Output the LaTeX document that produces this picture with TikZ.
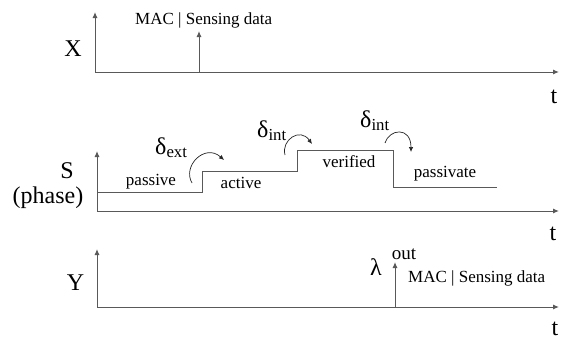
\documentclass[tikz,border=0pt]{standalone}
\usepackage{fontspec}
\setmainfont{Liberation Serif}
\usetikzlibrary{arrows.meta}

\tikzset{
  axis/.style={draw=black!65, line width=1pt, -{Latex[length=6pt,width=5pt]}},
  phaseline/.style={draw=black!65, line width=1pt},
  trans/.style={draw=black!85, line width=0.7pt, -{Latex[length=5pt,width=4.5pt]}},
  biglabel/.style={font=\fontsize{24}{26}\selectfont, inner sep=0pt},
  smalllabel/.style={font=\fontsize{17}{19}\selectfont, inner sep=0pt},
}

\begin{document}
\begin{tikzpicture}[x=1pt,y=-1pt]
    \useasboundingbox (0,0) rectangle (562,340);
    % input trajectory X
    \coordinate (xo) at (95,72);
    \coordinate (xtop) at (95,12);
    \coordinate (xend) at (559,72);
    \coordinate (xev) at (199,72);
    \coordinate (xevtop) at (199,31);
    \draw[axis] (xo) -- (xtop);
    \draw[axis] (xo) -- (xend);
    \draw[axis] (xev) -- (xevtop);
    \node[biglabel, anchor=base] (xname) at (73,56) {X};
    \node[biglabel, anchor=base] (xt) at (554,103) {t};
    \node[smalllabel, anchor=base west] (xmsg) at (135,24) {MAC | Sensing data};
    % state trajectory S
    \coordinate (so) at (97,211);
    \coordinate (stop) at (97,151);
    \coordinate (send) at (559,211);
    \draw[axis] (so) -- (stop);
    \draw[axis] (so) -- (send);
    \draw[phaseline] (97,192) -- (202,192) -- (202,171) -- (297,171) -- (297,150)
        -- (393,150) -- (393,187) -- (497,187);
    \node[biglabel, anchor=base] (sname) at (67,178) {S};
    \node[biglabel, anchor=base] (sphase) at (48,203) {(phase)};
    \node[biglabel, anchor=base] (st) at (553,240) {t};
    \node[smalllabel, anchor=base] (passive) at (151,185) {passive};
    \node[smalllabel, anchor=base] (active) at (241,188) {active};
    \node[smalllabel, anchor=base] (verified) at (349,167) {verified};
    \node[smalllabel, anchor=base] (passivate) at (445,177) {passivate};
    % transitions
    \node[biglabel, anchor=base west] (dext) at (155,154) {δ\textsubscript{ext}};
    \node[biglabel, anchor=base west] (dint1) at (257,137) {δ\textsubscript{int}};
    \node[biglabel, anchor=base west] (dint2) at (360,127) {δ\textsubscript{int}};
    \coordinate (ext1) at (192,183);
    \coordinate (ext2) at (224,160);
    \coordinate (int1a) at (285,155);
    \coordinate (int1b) at (312,144);
    \coordinate (int2a) at (385,143);
    \coordinate (int2b) at (411,152);
    \draw[trans] (ext1) .. controls (182,166) and (205,143) .. (ext2);
    \draw[trans] (int1a) .. controls (281,140) and (300,127) .. (int1b);
    \draw[trans] (int2a) .. controls (389,129) and (411,126) .. (int2b);
    % output trajectory Y
    \coordinate (yo) at (97,307);
    \coordinate (ytop) at (97,249);
    \coordinate (yend) at (559,307);
    \coordinate (yev) at (395,307);
    \coordinate (yevtop) at (395,262);
    \draw[axis] (yo) -- (ytop);
    \draw[axis] (yo) -- (yend);
    \draw[axis] (yev) -- (yevtop);
    \node[biglabel, anchor=base] (yname) at (75.5,290) {Y};
    \node[biglabel, anchor=base] (yt) at (555,335) {t};
    \node[biglabel, anchor=base west] (lout) at (370,275)
        {λ\hspace{10pt}\raisebox{16pt}{\fontsize{19}{20}\selectfont out}};
    \node[smalllabel, anchor=base west] (ymsg) at (408,282) {MAC | Sensing data};
\end{tikzpicture}
\end{document}
